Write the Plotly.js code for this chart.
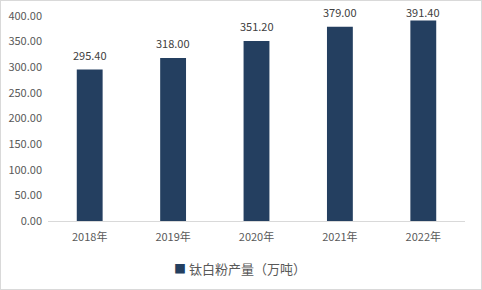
<!DOCTYPE html>
<html><head><meta charset="utf-8">
<script src="https://cdn.plot.ly/plotly-3.0.1.min.js"></script>
<style>
html,body{margin:0;padding:0;background:#fff;}
#wrap{position:relative;width:482px;height:290px;}
#chart{width:482px;height:290px;}
#frame{position:absolute;left:0;top:0;width:480px;height:288px;border:1px solid #d9d9d9;pointer-events:none;}
</style></head>
<body><div id="wrap"><div id="chart"></div><div id="frame"></div></div>
<script>
const categories = ["2018年","2019年","2020年","2021年","2022年"];
const values = [295.40, 318.00, 351.20, 379.00, 391.40];
const seriesName = "钛白粉产量（万吨）";
const yTicks = [0,50,100,150,200,250,300,350,400];

const font = "'Noto Sans CJK SC', 'Microsoft YaHei', sans-serif";
const barColor = '#243f60';
const H = 290, T = 16, B = 69, yMax = 400;
const pxPerUnit = (H - T - B) / yMax;

const labels = categories.map((c, i) => {
  const barTopPx = T + (yMax - values[i]) * pxPerUnit;
  const shift = Math.min(15, barTopPx - 12);
  return {
    x: c, y: values[i], xref: 'x', yref: 'y', text: values[i].toFixed(2),
    showarrow: false, yanchor: 'middle', yshift: shift,
    font: {family: font, size: 11, color: '#404040'}
  };
});
labels.push({
  xref: 'paper', yref: 'paper', x: 0.46, y: -0.23, xanchor: 'center', yanchor: 'middle',
  showarrow: false,
  text: '<span style="color:' + barColor + ';font-size:12px">■</span> ' + seriesName,
  font: {family: font, size: 13, color: '#595959'}
});

Plotly.newPlot('chart', [{
  type: 'bar', x: categories, y: values, name: seriesName,
  marker: {color: barColor}, showlegend: false
}], {
  width: 482, height: H,
  margin: {l: 48, r: 17, t: T, b: B, autoexpand: false},
  paper_bgcolor: '#fff', plot_bgcolor: '#fff',
  bargap: 0.69,
  font: {family: font, size: 11, color: '#595959'},
  xaxis: {showline: true, linecolor: '#d9d9d9', linewidth: 1, ticks: '', showgrid: false,
          tickfont: {size: 11, color: '#595959'}, automargin: false, ticklabelstandoff: 6},
  yaxis: {range: [0, yMax], tickvals: yTicks, tickformat: '.2f', showgrid: false, zeroline: false,
          showline: false, ticks: '', tickfont: {size: 11, color: '#595959'}, automargin: false,
          ticklabelstandoff: 5},
  annotations: labels,
  showlegend: false
}, {displayModeBar: false, staticPlot: true});
</script></body></html>
